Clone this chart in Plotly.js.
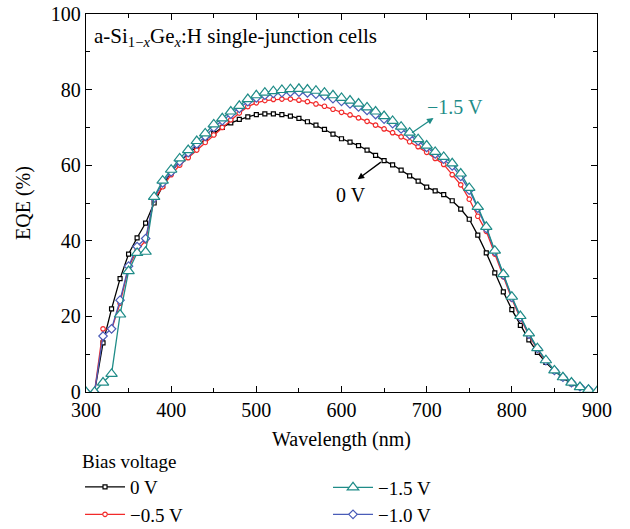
<!DOCTYPE html>
<html><head><meta charset="utf-8">
<script src="https://cdn.plot.ly/plotly-3.0.1.min.js"></script>
<style>body{margin:0;background:#fff}#g{width:630px;height:529px}</style>
</head><body><div id="g"></div>
<script>
const wavelength = [300,310,320,330,340,350,360,370,380,390,400,410,420,430,440,450,460,470,480,490,500,510,520,530,540,550,560,570,580,590,600,610,620,630,640,650,660,670,680,690,700,710,720,730,740,750,760,770,780,790,800,810,820,830,840,850,860,870,880,890,900];
const eqe0V = [0,0,13,22,30,36.5,40.8,44.7,50,54.5,58.3,60.9,63,64.9,66.7,68.4,70,71.2,72.1,72.8,73.4,73.6,73.6,73.4,73,72.4,71.5,70.6,69.5,68.2,67,66.1,65.2,64,62.6,61.2,60.1,58.7,57.2,55.8,54.2,53.2,52.2,50.6,48.4,45.7,41.5,36.8,31.5,26.5,21.8,17.6,13.8,10.5,7.8,5.6,3.7,2.2,1.2,0.4,0];
const eqeM05V = [0,0,16.7,16.5,23.5,33,37.5,40,51,54.3,57.5,60,62,64,66,68,70,72,73.8,75.5,76.5,77.1,77.4,77.5,77.5,77.2,76.8,76.2,75.6,74.8,74,73.3,72.5,71.6,70.6,69.6,68.6,67.5,66.2,64.9,63.4,61.8,60.2,57.5,54.8,51,46.5,42.5,36.5,30.5,24.6,19.5,15,11.3,8.2,5.8,3.9,2.5,1.4,0.6,0];
const eqeM10V = [0,0,14.8,16.7,24.3,33.3,38.5,40.6,51.3,55.3,58.2,61,63.3,65.6,67.6,70,71.8,73.5,75,76.8,77.8,78.5,79,79.2,79.3,79.3,79.1,78.8,78.3,77.6,76.9,76.2,75.4,74.5,73.4,72.2,71,69.6,68,66.4,64.7,63,61.6,59.8,57,53.4,48.6,43.3,37.2,31,25,19.8,15.3,11.5,8.3,5.7,3.9,2.5,1.4,0.7,0];
const eqeM15V = [0,0,2.5,4.8,20.5,32,36.8,37.1,51.6,55.9,58.8,61.8,64,66.4,68.4,70.8,72.4,74.2,75.7,77.5,78.5,79.2,79.6,79.9,80.1,80.2,80,79.7,79.2,78.5,77.8,77.1,76.3,75.3,74.2,73,71.7,70.2,68.6,66.9,65.2,63.5,62.2,60.5,57.8,54,49,43.7,37.4,31.2,25.2,20.1,15.5,11.6,8.4,5.7,3.9,2.5,1.3,0.6,0.2];
const seriesNames = ["0 V","\u22120.5 V","\u22121.0 V","\u22121.5 V"];
const xTicks = [300,400,500,600,700,800,900];
const yTicks = [0,20,40,60,80,100];

const FONT = "Liberation Serif, Times New Roman, serif";
const cBlack = "#000000", cRed = "#f22a2a", cBlue = "#4a5cb8", cTeal = "#1f8c88";

function tr(y, name, color, symbol, size, leg){
  return {x: wavelength, y: y, name: name, type: "scatter", mode: "lines+markers",
    line: {color: color, width: 1.3},
    marker: {symbol: symbol, size: size, color: "#ffffff", line: {color: color, width: 1.2}},
    legend: leg};
}
const data = [
  tr(eqe0V, seriesNames[0], cBlack, "square", 4, "legend"),
  tr(eqeM05V, seriesNames[1], cRed, "circle", 4.5, "legend2"),
  tr(eqeM10V, seriesNames[2], cBlue, "diamond", 6.5, "legend4"),
  tr(eqeM15V, seriesNames[3], cTeal, "triangle-up", 10, "legend3")
];

const axisCommon = {showgrid:false, zeroline:false, showline:true, linecolor:"#000", linewidth:1.2,
  mirror:"allticks", ticks:"inside", ticklen:6, tickwidth:1.2, tickcolor:"#000",
  tickfont:{family:FONT, size:20, color:"#000"}};

function leg(x, y, title){
  const o = {x:x, y:y, xanchor:"left", yanchor:"top",
    font:{family:FONT, size:19, color:"#000"}, bgcolor:"rgba(0,0,0,0)", itemwidth:40, borderwidth:0};
  if (title) o.title = {text:title, side:"top", font:{family:FONT, size:19, color:"#000"}};
  return o;
}

const layout = {
  width:630, height:529,
  margin:{l:86, r:33, t:14, b:137, autoexpand:false},
  paper_bgcolor:"#fff", plot_bgcolor:"#fff",
  font:{family:FONT, size:19, color:"#000"},
  xaxis: Object.assign({}, axisCommon, {range:[300,900], tickvals:xTicks,
    minor:{ticks:"inside", dtick:50, tick0:300, ticklen:4, tickcolor:"#000", tickwidth:1},
    title:{text:"Wavelength (nm)", font:{family:FONT, size:20}, standoff:11}}),
  yaxis: Object.assign({}, axisCommon, {range:[0,100], tickvals:yTicks,
    minor:{ticks:"inside", dtick:10, tick0:0, ticklen:4, tickcolor:"#000", tickwidth:1},
    title:{text:"EQE (%)", font:{family:FONT, size:20}, standoff:14}}),
  showlegend:true,
  legend: leg(-0.0117, -0.1357, "Bias voltage"),
  legend2: leg(-0.0117, -0.2738),
  legend3: leg(0.4736, -0.2024),
  legend4: leg(0.4736, -0.2738),
  annotations:[
    {xref:"paper", yref:"paper", x:0.012, y:0.94, xanchor:"left", yanchor:"middle", showarrow:false,
     text:"a-Si<sub>1\u2212<i>x</i></sub>Ge<sub><i>x</i></sub>:H single-junction cells", font:{family:FONT, size:21}},
    {x:619, y:56.3, ax:648, ay:61.1, axref:"x", ayref:"y", xref:"x", yref:"y", text:"", showarrow:true,
     arrowhead:2, arrowsize:1, arrowwidth:1.3, arrowcolor:"#000"},
    {x:611, y:52.1, text:"0 V", showarrow:false, font:{family:FONT, size:20, color:"#000"}},
    {x:708, y:72.5, ax:681, ay:68.3, axref:"x", ayref:"y", xref:"x", yref:"y", text:"", showarrow:true,
     arrowhead:2, arrowsize:1, arrowwidth:1.3, arrowcolor:cTeal},
    {x:733, y:75.4, text:"\u22121.5 V", showarrow:false, font:{family:FONT, size:20, color:cTeal}}
  ]
};
Plotly.newPlot("g", data, layout, {displayModeBar:false, staticPlot:true});
</script></body></html>
